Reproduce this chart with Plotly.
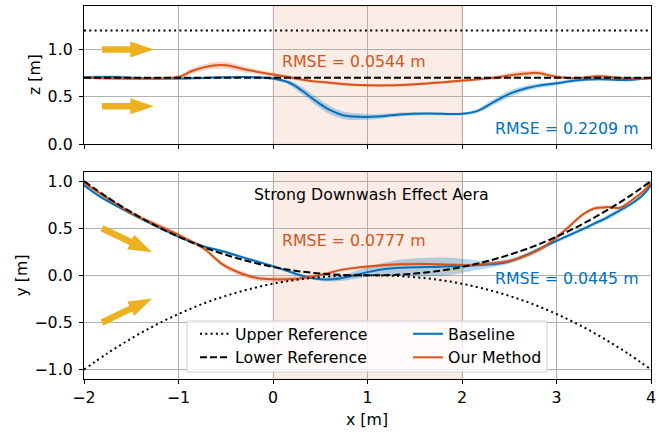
import numpy as np
import plotly.graph_objects as go

BLUE = "#0072BD"
ORANGE = "#D95319"
GOLD = "#EDB120"
FONT = "DejaVu Sans"
FS = 15.8

# ---------------- data: top panel (z) ----------------
x_top = [-2, -1.7, -1.35, -1, -0.85, -0.63, -0.5, -0.28, 0, 0.18, 0.32, 0.46, 0.6, 0.74,
         0.92, 1.1, 1.34, 1.63, 1.98, 2.15, 2.33, 2.5, 2.68, 2.8, 3, 3.2, 3.45, 3.65, 3.8, 4]
base_z = [0.705, 0.708, 0.695, 0.692, 0.695, 0.703, 0.706, 0.708, 0.692, 0.645, 0.555, 0.45,
          0.36, 0.305, 0.288, 0.29, 0.312, 0.322, 0.318, 0.345, 0.44, 0.53, 0.59, 0.615,
          0.642, 0.672, 0.685, 0.678, 0.68, 0.70]
base_z_std = [0.012, 0.02, 0.012, 0.012, 0.012, 0.012, 0.012, 0.012, 0.015, 0.025, 0.04, 0.045,
              0.045, 0.04, 0.035, 0.025, 0.02, 0.015, 0.015, 0.02, 0.03, 0.035, 0.03, 0.025,
              0.02, 0.015, 0.012, 0.015, 0.015, 0.01]
ours_z = [0.70, 0.693, 0.693, 0.71, 0.775, 0.83, 0.832, 0.785, 0.735, 0.705, 0.68, 0.66,
          0.648, 0.635, 0.623, 0.62, 0.623, 0.64, 0.668, 0.682, 0.70, 0.725, 0.745, 0.752,
          0.712, 0.695, 0.718, 0.70, 0.695, 0.694]
ours_z_std = [0.012, 0.015, 0.015, 0.02, 0.03, 0.035, 0.035, 0.03, 0.02, 0.02, 0.015, 0.015,
              0.015, 0.015, 0.015, 0.015, 0.015, 0.015, 0.015, 0.015, 0.02, 0.03, 0.03, 0.025,
              0.02, 0.015, 0.02, 0.015, 0.012, 0.01]
ref_z_x = [-2, 4]
upper_ref_z = [1.2, 1.2]
lower_ref_z = [0.7, 0.7]

# ---------------- data: bottom panel (y) ----------------
x_bot = [-2, -1.83, -1.5, -1.23, -1, -0.74, -0.53, -0.35, -0.17, 0, 0.2, 0.39, 0.55, 0.72,
         0.92, 1.1, 1.34, 1.63, 1.9, 2.1, 2.25, 2.47, 2.68, 2.86, 3, 3.14, 3.28, 3.4, 3.53,
         3.67, 3.8, 3.92, 4]
base_y = [0.955, 0.835, 0.655, 0.52, 0.412, 0.31, 0.255, 0.2, 0.148, 0.097, 0.03, -0.025,
          -0.045, -0.03, 0.015, 0.055, 0.08, 0.088, 0.097, 0.105, 0.112, 0.14, 0.215, 0.3,
          0.366, 0.43, 0.49, 0.55, 0.61, 0.69, 0.765, 0.858, 0.96]
base_y_std = [0.015, 0.015, 0.015, 0.015, 0.015, 0.015, 0.015, 0.015, 0.015, 0.015, 0.015,
              0.015, 0.02, 0.03, 0.045, 0.06, 0.085, 0.1, 0.09, 0.06, 0.04, 0.025, 0.02,
              0.02, 0.02, 0.02, 0.02, 0.02, 0.025, 0.025, 0.02, 0.015, 0.015]
ours_y = [0.98, 0.87, 0.66, 0.535, 0.43, 0.29, 0.113, 0.025, -0.028, -0.042, -0.04, -0.017,
          0.015, 0.058, 0.085, 0.102, 0.118, 0.12, 0.113, 0.108, 0.12, 0.146, 0.21, 0.297,
          0.403, 0.524, 0.647, 0.71, 0.724, 0.718, 0.80, 0.893, 0.98]
ours_y_std = [0.012, 0.02, 0.025, 0.025, 0.02, 0.02, 0.025, 0.03, 0.03, 0.03, 0.025, 0.02,
              0.015, 0.015, 0.015, 0.015, 0.015, 0.015, 0.015, 0.015, 0.015, 0.02, 0.025,
              0.025, 0.025, 0.02, 0.02, 0.02, 0.02, 0.015, 0.015, 0.015, 0.012]
ref_y_x = [-2, -1.75, -1.5, -1.25, -1, -0.75, -0.5, -0.25, 0, 0.25, 0.5, 0.75, 1,
           1.25, 1.5, 1.75, 2, 2.25, 2.5, 2.75, 3, 3.25, 3.5, 3.75, 4]
lower_ref_y = [1.0, 0.826, 0.670, 0.531, 0.410, 0.305, 0.218, 0.146, 0.089, 0.047, 0.019,
               0.004, 0.0, 0.004, 0.019, 0.047, 0.089, 0.146, 0.218, 0.305, 0.410, 0.531,
               0.670, 0.826, 1.0]
upper_ref_y = [-v for v in lower_ref_y]

x_ticks = [-2, -1, 0, 1, 2, 3, 4]
z_ticks = [0.0, 0.5, 1.0]
y_ticks = [-1.0, -0.5, 0.0, 0.5, 1.0]
region = [0, 2]

# arrows: (tail x, tail y, tip x, tip y, panel)
arrows = [(-1.81, 1.0, -1.26, 1.0, 1), (-1.81, 0.40, -1.26, 0.40, 1),
          (-1.81, 0.50, -1.28, 0.245, 2), (-1.81, -0.50, -1.28, -0.245, 2)]

texts = [("RMSE = 0.0544 m", 0.86, 0.868, ORANGE, 1),
         ("RMSE = 0.2209 m", 3.115, 0.162, BLUE, 1),
         ("Strong Downwash Effect Aera", 1.045, 0.862, "black", 2),
         ("RMSE = 0.0777 m", 0.86, 0.366, ORANGE, 2),
         ("RMSE = 0.0445 m", 3.112, -0.03, BLUE, 2)]

fig = go.Figure()


def band(x, v, s, color, xa, ya):
    v = np.array(v); s = np.array(s)
    fig.add_trace(go.Scatter(x=x, y=v - s, mode="lines", line=dict(width=0, shape="spline"),
                             showlegend=False, hoverinfo="skip", xaxis=xa, yaxis=ya))
    fig.add_trace(go.Scatter(x=x, y=v + s, mode="lines", line=dict(width=0, shape="spline"),
                             fill="tonexty", fillcolor=color, showlegend=False,
                             hoverinfo="skip", xaxis=xa, yaxis=ya))


band(x_top, base_z, base_z_std, "rgba(0,114,189,0.28)", "x", "y")
band(x_top, ours_z, ours_z_std, "rgba(217,83,25,0.25)", "x", "y")
band(x_bot, base_y, base_y_std, "rgba(0,114,189,0.28)", "x2", "y2")
band(x_bot, ours_y, ours_y_std, "rgba(217,83,25,0.25)", "x2", "y2")

fig.add_trace(go.Scatter(x=x_top, y=base_z, mode="lines", line=dict(color=BLUE, width=2, shape="spline"),
                         showlegend=False, xaxis="x", yaxis="y"))
fig.add_trace(go.Scatter(x=x_top, y=ours_z, mode="lines", line=dict(color=ORANGE, width=2, shape="spline"),
                         showlegend=False, xaxis="x", yaxis="y"))
fig.add_trace(go.Scatter(x=x_bot, y=base_y, mode="lines", name="Baseline",
                         line=dict(color=BLUE, width=2, shape="spline"),
                         legend="legend2", xaxis="x2", yaxis="y2"))
fig.add_trace(go.Scatter(x=x_bot, y=ours_y, mode="lines", name="Our Method",
                         line=dict(color=ORANGE, width=2, shape="spline"),
                         legend="legend2", xaxis="x2", yaxis="y2"))

DOT = "2px,3.3px"
DASH = "7px,3px"
fig.add_trace(go.Scatter(x=ref_z_x, y=upper_ref_z, mode="lines", line=dict(color="black", width=2, dash=DOT),
                         showlegend=False, xaxis="x", yaxis="y"))
fig.add_trace(go.Scatter(x=ref_z_x, y=lower_ref_z, mode="lines", line=dict(color="black", width=2, dash=DASH),
                         showlegend=False, xaxis="x", yaxis="y"))
fig.add_trace(go.Scatter(x=ref_y_x, y=upper_ref_y, mode="lines", name="Upper Reference",
                         line=dict(color="black", width=2, dash=DOT, shape="spline"),
                         legend="legend", xaxis="x2", yaxis="y2"))
fig.add_trace(go.Scatter(x=ref_y_x, y=lower_ref_y, mode="lines", name="Lower Reference",
                         line=dict(color="black", width=2, dash=DASH, shape="spline"),
                         legend="legend", xaxis="x2", yaxis="y2"))

shapes = []
for xr, yr in (("x", "y domain"), ("x2", "y2 domain")):
    shapes.append(dict(type="rect", xref=xr, yref=yr, x0=region[0], x1=region[1], y0=0, y1=1,
                       fillcolor="rgba(217,83,25,0.11)", line=dict(width=1, color="rgba(217,83,25,0.15)"),
                       layer="below"))


def arrow_path(x0, y0, x1, y1):
    sw, hw, hl = 0.035, 0.085, 0.25
    d = np.array([x1 - x0, y1 - y0]); L = np.hypot(*d); u = d / L; n = np.array([-u[1], u[0]])
    t = np.array([x0, y0]); tip = np.array([x1, y1]); b = tip - u * hl
    pts = [t + n * sw, b + n * sw, b + n * hw, tip, b - n * hw, b - n * sw, t - n * sw]
    return "M " + " L ".join(f"{p[0]:.4f},{p[1]:.4f}" for p in pts) + " Z"


for (x0, y0, x1, y1, p) in arrows:
    shapes.append(dict(type="path", path=arrow_path(x0, y0, x1, y1),
                       xref="x" if p == 1 else "x2", yref="y" if p == 1 else "y2",
                       fillcolor=GOLD, line=dict(width=0), layer="above"))

# legend box
L_PX, R_PX, T_PX, B_PX = 84, 651, 6, 379
W, H = R_PX - L_PX, B_PX - T_PX
px = lambda v: (v - L_PX) / W
py = lambda v: (B_PX - v) / H
shapes.append(dict(type="rect", xref="paper", yref="paper", x0=px(187), x1=px(547), y0=py(372), y1=py(321),
                   fillcolor="rgba(255,255,255,0.8)", line=dict(color="rgba(204,204,204,0.9)", width=1),
                   layer="above"))

annotations = []
for (t, x, y, c, p) in texts:
    annotations.append(dict(text=t, x=x, y=y, xref="x" if p == 1 else "x2", yref="y" if p == 1 else "y2",
                            showarrow=False, font=dict(family=FONT, size=FS, color=c),
                            xanchor="center", yanchor="middle"))
annotations += [
    dict(text="z [m]", x=px(34), y=py(75), xref="paper", yref="paper", textangle=-90, showarrow=False,
         font=dict(family=FONT, size=FS, color="black"), xanchor="center", yanchor="middle"),
    dict(text="y [m]", x=px(21), y=py(275.5), xref="paper", yref="paper", textangle=-90, showarrow=False,
         font=dict(family=FONT, size=FS, color="black"), xanchor="center", yanchor="middle"),
    dict(text="x [m]", x=px(367), y=py(419), xref="paper", yref="paper", showarrow=False,
         font=dict(family=FONT, size=FS, color="black"), xanchor="center", yanchor="middle"),
]

ax_common = dict(showline=True, linecolor="black", linewidth=1.2, mirror=True, ticks="outside",
                 ticklen=4, tickwidth=1.2, tickcolor="black", showgrid=True, gridcolor="#b0b0b0",
                 gridwidth=1, zeroline=False, tickfont=dict(family=FONT, size=FS, color="black"))

top_dom = [py(144), 1.0]
bot_dom = [0.0, py(171.7)]

leg_common = dict(xanchor="left", yanchor="top", bgcolor="rgba(0,0,0,0)", borderwidth=0,
                  font=dict(family=FONT, size=FS, color="black"), tracegroupgap=0, itemwidth=30,
                  traceorder="normal")

fig.update_layout(
    width=668, height=432,
    margin=dict(l=L_PX, r=668 - R_PX, t=T_PX, b=432 - B_PX),
    paper_bgcolor="white", plot_bgcolor="white",
    font=dict(family=FONT, size=FS, color="black"),
    xaxis=dict(domain=[0, 1], anchor="y", range=[-2, 4], tickvals=x_ticks, showticklabels=False, **ax_common),
    yaxis=dict(domain=top_dom, anchor="x", range=[0, 1.46], tickvals=z_ticks, tickformat=".1f",
               ticklabelstandoff=3, **ax_common),
    xaxis2=dict(domain=[0, 1], anchor="y2", range=[-2, 4], tickvals=x_ticks, **ax_common),
    yaxis2=dict(domain=bot_dom, anchor="x2", range=[-1.1, 1.1], tickvals=y_ticks, tickformat=".1f",
                ticklabelstandoff=3, **ax_common),
    legend=dict(x=px(195), y=py(317), **leg_common),
    legend2=dict(x=px(408), y=py(317), **leg_common),
    shapes=shapes,
    annotations=annotations,
)

fig.write_html("out.html", config={"displayModeBar": False},
               post_script="document.body.style.margin='0';")
